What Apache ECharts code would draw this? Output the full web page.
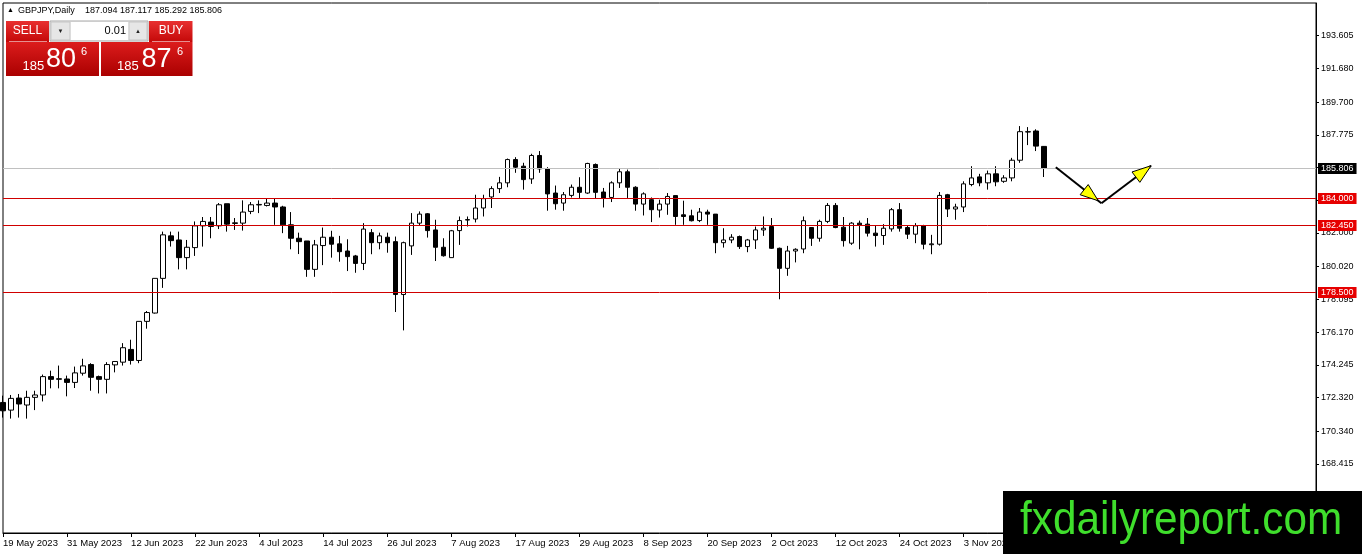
<!DOCTYPE html>
<html>
<head>
<meta charset="utf-8">
<title>GBPJPY, Daily</title>
<script src="https://cdn.jsdelivr.net/npm/echarts@6/dist/echarts.min.js"></script>
<style>
  html, body { margin: 0; padding: 0; background: #ffffff; }
  #chart { width: 1362px; height: 554px; }
</style>
</head>
<body>
<div id="chart"></div>
<script>
'use strict';

// daily bars, weekdays only, first bar 19 May 2023
var symbolName = 'GBPJPY,Daily';
var startDate = '2023-05-19';
var futureBars = 34;

var opens = [
  172.03, 171.58, 172.29, 171.88, 172.33, 172.47, 173.55, 173.39, 173.41, 173.21,
  173.75, 174.26, 173.55, 173.39, 174.24, 174.40, 175.15, 174.50, 176.80, 177.29,
  179.33, 181.83, 181.59, 180.55, 181.14, 182.42, 182.64, 182.42, 183.72, 182.56,
  182.58, 183.27, 183.65, 183.62, 183.76, 183.53, 182.48, 181.69, 181.53, 179.86,
  181.26, 181.75, 181.36, 180.94, 180.65, 180.21, 182.02, 181.43, 181.75, 181.49,
  178.38, 181.24, 182.58, 183.13, 182.18, 181.16, 180.55, 182.14, 182.76, 182.82,
  183.47, 184.12, 184.61, 184.95, 186.32, 185.93, 185.18, 186.56, 185.79, 184.35,
  183.76, 184.21, 184.69, 184.35, 186.03, 184.41, 184.09, 184.95, 185.60, 184.69,
  183.70, 183.96, 183.35, 183.70, 184.20, 183.07, 183.01, 182.73, 183.23, 183.11,
  181.43, 181.59, 181.79, 181.20, 181.59, 182.18, 182.38, 181.10, 179.92, 180.94,
  181.06, 182.32, 181.69, 182.68, 183.62, 182.34, 181.40, 182.58, 182.52, 181.99,
  181.85, 182.24, 183.37, 182.32, 181.93, 182.42, 181.31, 181.34, 184.25, 183.41,
  183.53, 184.85, 185.30, 184.95, 185.48, 185.04, 185.24, 186.28, 187.94, 188.00,
  187.094
];
var highs = [
  172.43, 172.47, 172.53, 172.72, 172.72, 173.67, 173.90, 174.20, 173.61, 174.14,
  174.60, 174.34, 173.61, 174.40, 174.44, 175.52, 175.72, 176.80, 177.41, 179.33,
  182.08, 182.08, 182.08, 181.59, 182.68, 182.94, 182.94, 183.76, 183.72, 182.88,
  183.92, 183.82, 183.92, 184.00, 184.00, 183.60, 183.23, 182.02, 181.53, 181.59,
  182.32, 182.13, 181.83, 181.63, 180.71, 182.58, 182.23, 182.02, 182.02, 181.79,
  181.49, 183.17, 183.27, 183.17, 182.78, 181.69, 182.18, 182.97, 182.97, 184.25,
  184.25, 184.75, 185.30, 186.38, 186.46, 186.13, 186.66, 186.82, 185.87, 184.79,
  184.41, 184.85, 185.28, 186.13, 186.09, 184.65, 185.04, 185.79, 185.73, 184.75,
  184.39, 184.09, 183.96, 184.35, 184.20, 183.90, 183.37, 183.47, 183.37, 183.11,
  182.28, 181.93, 181.85, 181.65, 182.38, 182.97, 182.88, 181.14, 181.24, 181.10,
  182.97, 182.32, 182.78, 183.76, 183.76, 182.94, 182.64, 182.73, 182.88, 182.44,
  182.52, 183.47, 183.76, 182.42, 182.58, 182.48, 181.89, 184.41, 184.30, 183.72,
  185.04, 185.93, 185.48, 185.67, 185.93, 185.40, 186.42, 188.29, 188.23, 188.10,
  187.117
];
var lows = [
  171.14, 171.08, 171.14, 171.08, 171.58, 172.09, 172.86, 172.86, 172.39, 172.88,
  173.61, 172.72, 172.56, 172.56, 173.80, 174.20, 174.26, 174.34, 176.37, 177.26,
  178.77, 181.20, 179.86, 179.86, 180.65, 181.20, 181.69, 182.23, 182.08, 182.18,
  182.14, 183.11, 183.17, 183.56, 182.48, 181.99, 181.04, 180.76, 179.42, 179.42,
  180.11, 180.55, 180.31, 179.76, 179.66, 179.82, 180.75, 181.04, 180.84, 177.35,
  176.27, 180.71, 182.42, 181.73, 180.35, 180.61, 180.55, 181.30, 182.38, 182.62,
  182.97, 183.47, 184.35, 184.69, 185.54, 184.55, 184.89, 185.54, 183.31, 183.37,
  183.31, 184.09, 184.06, 184.30, 184.02, 183.50, 183.82, 184.65, 184.06, 183.31,
  183.03, 182.64, 182.91, 183.07, 182.48, 182.48, 182.68, 182.64, 182.48, 180.81,
  181.14, 181.40, 181.06, 180.87, 181.06, 181.83, 181.06, 178.10, 179.48, 180.27,
  180.81, 181.24, 181.49, 182.58, 182.28, 181.20, 181.30, 181.04, 181.79, 181.20,
  181.30, 182.08, 182.08, 181.65, 181.40, 181.04, 180.75, 181.26, 182.94, 182.78,
  183.23, 184.75, 184.75, 184.55, 184.75, 184.95, 185.04, 186.13, 187.17, 186.82,
  185.292
];
var closes = [
  171.54, 172.27, 171.94, 172.33, 172.47, 173.55, 173.39, 173.43, 173.21, 173.77,
  174.18, 173.51, 173.39, 174.26, 174.44, 175.25, 174.50, 176.80, 177.32, 179.33,
  181.89, 181.55, 180.55, 181.16, 182.42, 182.68, 182.38, 183.66, 182.52, 182.60,
  183.23, 183.66, 183.68, 183.76, 183.53, 182.48, 181.69, 181.49, 179.86, 181.30,
  181.75, 181.34, 180.90, 180.61, 180.21, 182.23, 181.43, 181.83, 181.43, 178.38,
  181.43, 182.58, 183.11, 182.14, 181.16, 180.66, 182.13, 182.73, 182.79, 183.47,
  184.02, 184.61, 184.95, 186.32, 185.87, 185.14, 186.56, 185.77, 184.30, 183.72,
  184.25, 184.69, 184.39, 186.09, 184.39, 184.06, 184.95, 185.60, 184.69, 183.70,
  184.30, 183.37, 183.70, 184.15, 182.97, 182.97, 182.72, 183.23, 183.11, 181.43,
  181.59, 181.75, 181.20, 181.59, 182.18, 182.28, 181.10, 179.92, 180.94, 181.04,
  182.72, 181.69, 182.68, 183.62, 182.32, 181.55, 182.58, 182.48, 181.99, 181.85,
  182.28, 183.37, 182.28, 181.93, 182.42, 181.34, 181.36, 184.21, 183.41, 183.53,
  184.89, 185.24, 184.95, 185.48, 185.01, 185.24, 186.28, 187.96, 187.96, 187.11,
  185.806
];

// horizontal levels drawn on the chart
var levels = [184.000, 182.450, 178.500];
// price scale ticks as shown by the terminal
var yTicks = [168.415, 170.340, 172.320, 174.245, 176.170, 178.095, 180.020,
  182.000, 183.925, 185.850, 187.775, 189.700, 191.680, 193.605];
var yMin = 164.35;
var yMax = 195.53;

// trade panel
var lotSize = '0.01';
var askPrice = 185.876;

// drawn arrows: [bar position, price]
var arrowPoints = [[131.5, 185.865], [137.2, 183.747], [143.4, 185.959]];

var FONT = 'Liberation Sans';
var months = ['Jan', 'Feb', 'Mar', 'Apr', 'May', 'Jun', 'Jul', 'Aug', 'Sep', 'Oct', 'Nov', 'Dec'];

function buildDates(start, count) {
  var d = new Date(start + 'T00:00:00Z');
  var out = [];
  while (out.length < count) {
    var wd = d.getUTCDay();
    if (wd !== 0 && wd !== 6) {
      out.push(d.getUTCDate() + ' ' + months[d.getUTCMonth()] + ' ' + d.getUTCFullYear());
    }
    d.setUTCDate(d.getUTCDate() + 1);
  }
  return out;
}

var nBars = closes.length;
var dates = buildDates(startDate, nBars + futureBars);
var candles = [];
for (var i = 0; i < nBars; i++) {
  candles.push([opens[i], closes[i], lows[i], highs[i]]);
}
var lastClose = closes[nBars - 1];

function splitPrice(p) {
  var s = p.toFixed(3);
  return { big: s.slice(0, 3), mid: s.slice(4, 6), small: s.slice(6) };
}
var bid = splitPrice(lastClose);
var ask = splitPrice(askPrice);

var chart = echarts.init(document.getElementById('chart'), null, { renderer: 'canvas' });

function redGrad(top, bottom) {
  return new echarts.graphic.LinearGradient(0, 0, 0, 1, [
    { offset: 0, color: top },
    { offset: 1, color: bottom }
  ]);
}

function txt(id, x, y, text, size, color, align, extra) {
  var el = {
    type: 'text', id: id, x: x, y: y, z: 100,
    style: {
      text: text, fontSize: size, fontFamily: FONT, fill: color,
      align: align || 'left', verticalAlign: 'middle'
    }
  };
  if (extra) {
    for (var k in extra) el[k] = extra[k];
  }
  return el;
}

function box(id, x, y, w, h, fill, stroke) {
  return {
    type: 'rect', id: id, z: 100,
    shape: { x: x, y: y, width: w, height: h },
    style: { fill: fill, stroke: stroke || null, lineWidth: 1 }
  };
}

var panel = [
  txt('hdrArrow', 7, 10.5, '\u25B2', 7, '#000'),
  txt('hdrName', 18, 10.5, symbolName, 9, '#000'),
  txt('hdrOhlc', 85, 10.5, [opens[nBars - 1], highs[nBars - 1], lows[nBars - 1], closes[nBars - 1]]
    .map(function (v) { return v.toFixed(3); }).join(' '), 9, '#000'),

  box('sellBtn', 6, 21, 43, 21, redGrad('#e83030', '#c40808')),
  txt('sellTxt', 27.5, 31, 'SELL', 12, '#ffffff', 'center'),
  { type: 'line', id: 'sellSep', z: 101, shape: { x1: 9, y1: 41.5, x2: 47, y2: 41.5 },
    style: { stroke: 'rgba(255,255,255,0.55)', lineWidth: 1 } },

  box('ctrlBox', 50, 21, 98, 20, '#f2f2f2', '#a8a8a8'),
  box('downBtn', 51, 22, 19, 18, '#e6e6e6', '#c6c6c6'),
  txt('downTxt', 60.5, 31, '\u25BC', 6, '#222', 'center'),
  box('lotBox', 71, 22, 57, 18, '#ffffff'),
  txt('lotTxt', 126, 31, lotSize, 11, '#000', 'right'),
  box('upBtn', 129, 22, 18, 18, '#e6e6e6', '#c6c6c6'),
  txt('upTxt', 138, 31, '\u25B2', 6, '#222', 'center'),

  box('buyBtn', 149, 21, 43.5, 21, redGrad('#e83030', '#c40808')),
  txt('buyTxt', 171, 31, 'BUY', 12, '#ffffff', 'center'),
  { type: 'line', id: 'buySep', z: 101, shape: { x1: 152, y1: 41.5, x2: 190, y2: 41.5 },
    style: { stroke: 'rgba(255,255,255,0.55)', lineWidth: 1 } },

  box('bidBox', 6, 42, 93, 34, redGrad('#dc1c1c', '#aa0000')),
  txt('bidBig', 22.5, 66, bid.big, 13, '#ffffff'),
  txt('bidMid', 46, 60, bid.mid, 27, '#ffffff'),
  txt('bidSmall', 81, 52, bid.small, 11, '#ffffff'),

  box('askBox', 101, 42, 91.5, 34, redGrad('#dc1c1c', '#aa0000')),
  txt('askBig', 117, 66, ask.big, 13, '#ffffff'),
  txt('askMid', 141.5, 60, ask.mid, 27, '#ffffff'),
  txt('askSmall', 177, 52, ask.small, 11, '#ffffff'),

  box('wmBox', 1003, 491, 359, 63, '#000000'),
  txt('wmTxt', 1020, 521, 'fxdailyreport.com', 46, '#3fde2c', 'left', { scaleX: 0.92 })
];

var option = {
  animation: false,
  backgroundColor: '#ffffff',
  textStyle: { fontFamily: FONT },
  grid: {
    left: 3, right: 46, top: 3, bottom: 21,
    show: true, borderColor: '#000000', borderWidth: 1, backgroundColor: 'transparent'
  },
  xAxis: {
    type: 'category',
    data: dates,
    boundaryGap: false,
    axisLine: { lineStyle: { color: '#000000', width: 1 } },
    axisTick: { show: true, interval: 7, length: 4, lineStyle: { color: '#000000' } },
    axisLabel: {
      interval: 7, align: 'left', margin: 5, fontSize: 9.5, color: '#000000', fontFamily: FONT,
      formatter: function (value, index) { return index < nBars ? value : ''; }
    },
    splitLine: { show: false }
  },
  yAxis: {
    type: 'value',
    position: 'right',
    min: yMin,
    max: yMax,
    axisLine: { show: true, lineStyle: { color: '#000000', width: 1 } },
    axisTick: { show: true, length: 3, customValues: yTicks, lineStyle: { color: '#000000' } },
    axisLabel: {
      customValues: yTicks, fontSize: 9, color: '#000000', margin: 5, fontFamily: FONT,
      formatter: function (v) { return v.toFixed(3); }
    },
    splitLine: { show: false }
  },
  series: [
    {
      type: 'candlestick',
      data: candles,
      barWidth: 5,
      itemStyle: {
        color: '#ffffff',
        color0: '#000000',
        borderColor: '#000000',
        borderColor0: '#000000',
        borderWidth: 1
      }
    }
  ],
  graphic: panel
};

chart.setOption(option);

// overlays anchored to bar position / price, converted through the chart's axes
function toPx(p) {
  // fractional bar positions: interpolate between the two neighbouring bars
  var lo = Math.floor(p[0]), f = p[0] - lo;
  var a = chart.convertToPixel({ gridIndex: 0 }, [lo, p[1]]);
  if (f === 0) return a;
  var b = chart.convertToPixel({ gridIndex: 0 }, [lo + 1, p[1]]);
  return [a[0] + (b[0] - a[0]) * f, a[1]];
}
function crisp(v) { return Math.round(v - 0.5) + 0.5; }

var rect = chart.getModel().getComponent('grid', 0).coordinateSystem.getRect();
var overlays = [];

function addLevel(id, v, lineColor, bg) {
  var y = crisp(toPx([0, v])[1]);
  overlays.push({
    type: 'line', id: id + 'Line', z: 50,
    shape: { x1: rect.x, y1: y, x2: rect.x + rect.width, y2: y },
    style: { stroke: lineColor, lineWidth: 1 }
  });
  overlays.push({
    type: 'text', id: id + 'Lbl', z: 55, x: rect.x + rect.width + 2, y: y,
    style: {
      text: v.toFixed(3), fontSize: 9, fontFamily: FONT, fill: '#ffffff',
      backgroundColor: bg, padding: [1, 3, 1, 3], align: 'left', verticalAlign: 'middle'
    }
  });
}
levels.forEach(function (v, k) { addLevel('lvl' + k, v, '#d00000', '#e60000'); });
addLevel('bidLvl', lastClose, '#c0c0c0', '#000000');

function arrowHead(from, to, back, len, half) {
  var dx = to[0] - from[0], dy = to[1] - from[1];
  var l = Math.sqrt(dx * dx + dy * dy);
  var ux = dx / l, uy = dy / l;
  var tip = [to[0] - ux * back, to[1] - uy * back];
  var bx = tip[0] - ux * len, by = tip[1] - uy * len;
  return [tip, [bx - uy * half, by + ux * half], [bx + uy * half, by - ux * half]];
}

var pts = arrowPoints.map(toPx);
overlays.push(
  { type: 'polyline', id: 'arrLine1', z: 60, shape: { points: [pts[0], pts[1]] },
    style: { stroke: '#000000', lineWidth: 2, fill: null } },
  { type: 'polyline', id: 'arrLine2', z: 60, shape: { points: [pts[1], pts[2]] },
    style: { stroke: '#000000', lineWidth: 2, fill: null } },
  { type: 'polygon', id: 'arrHead1', z: 61, shape: { points: arrowHead(pts[0], pts[1], 4, 18, 6.5) },
    style: { fill: '#ffff00', stroke: '#000000', lineWidth: 1 } },
  { type: 'polygon', id: 'arrHead2', z: 61, shape: { points: arrowHead(pts[1], pts[2], 0, 19, 6.5) },
    style: { fill: '#ffff00', stroke: '#000000', lineWidth: 1 } }
);
chart.setOption({ graphic: overlays });
</script>
</body>
</html>
